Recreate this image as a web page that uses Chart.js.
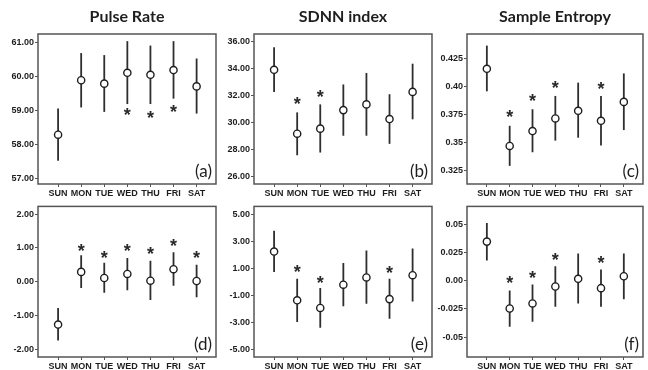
<!DOCTYPE html>
<html>
<head>
<meta charset="utf-8">
<script src="https://cdn.jsdelivr.net/npm/chart.js@4.4.1/dist/chart.umd.min.js"></script>
<style>
  body { margin: 0; background: #fff; width: 648px; height: 370px; position: relative; overflow: hidden; }
  canvas { position: absolute; }
</style>
</head>
<body>
<canvas id="chartA"></canvas>
<canvas id="chartB"></canvas>
<canvas id="chartC"></canvas>
<canvas id="chartD"></canvas>
<canvas id="chartE"></canvas>
<canvas id="chartF"></canvas>
<script>
// Days of the week (x categories)
const days = ['SUN', 'MON', 'TUE', 'WED', 'THU', 'FRI', 'SAT'];

// (a) Pulse Rate: mean, lower / upper whisker, asterisk position
const pulseMean = [58.30, 59.90, 59.80, 60.12, 60.06, 60.20, 59.72];
const pulseLow  = [57.53, 59.10, 58.97, 59.20, 59.20, 59.36, 58.92];
const pulseHigh = [59.07, 60.70, 60.64, 61.05, 60.92, 61.05, 60.54];
const pulseStar = [null, null, null, 58.97, 58.90, 59.06, null];
const pulseTicks = [57, 58, 59, 60, 61];
const pulseTickLabels = ['57.00', '58.00', '59.00', '60.00', '61.00'];

// (b) SDNN index
const sdnnMean = [33.90, 29.19, 29.56, 30.93, 31.35, 30.27, 32.27];
const sdnnLow  = [32.26, 27.60, 27.80, 29.04, 29.04, 28.44, 30.25];
const sdnnHigh = [35.57, 30.76, 31.35, 32.82, 33.67, 32.10, 34.35];
const sdnnStar = [null, 31.62, 32.13, null, null, null, null];
const sdnnTicks = [26, 28, 30, 32, 34, 36];
const sdnnTickLabels = ['26.00', '28.00', '30.00', '32.00', '34.00', '36.00'];

// (c) Sample Entropy
const entropyMean = [0.4156, 0.3471, 0.3603, 0.3715, 0.3783, 0.3694, 0.3862];
const entropyLow  = [0.3956, 0.3294, 0.3415, 0.3518, 0.3544, 0.3474, 0.3612];
const entropyHigh = [0.4362, 0.3650, 0.3797, 0.3915, 0.4033, 0.3915, 0.4115];
const entropyStar = [null, 0.3759, 0.3900, 0.4015, null, 0.4006, null];
const entropyTicks = [0.325, 0.35, 0.375, 0.40, 0.425];
const entropyTickLabels = ['0.325', '0.35', '0.375', '0.40', '0.425'];

// (d) Pulse Rate, deviation
const pulseDevMean = [-1.27, 0.29, 0.11, 0.23, 0.03, 0.37, 0.02];
const pulseDevLow  = [-1.74, -0.19, -0.33, -0.25, -0.54, -0.12, -0.46];
const pulseDevHigh = [-0.78, 0.78, 0.56, 0.70, 0.62, 0.87, 0.50];
const pulseDevStar = [null, 1.02, 0.81, 1.02, 0.93, 1.17, 0.80];
const pulseDevTicks = [-2, -1, 0, 1, 2];
const pulseDevTickLabels = ['-2.00', '-1.00', '0.00', '1.00', '2.00'];

// (e) SDNN index, deviation
const sdnnDevMean = [2.26, -1.37, -1.94, -0.21, 0.33, -1.28, 0.50];
const sdnnDevLow  = [0.73, -2.98, -3.41, -1.82, -1.62, -2.74, -1.45];
const sdnnDevHigh = [3.80, 0.23, -0.46, 1.40, 2.34, 0.23, 2.49];
const sdnnDevStar = [null, 1.00, 0.21, null, null, 0.93, null];
const sdnnDevTicks = [-5, -3, -1, 1, 3, 5];
const sdnnDevTickLabels = ['-5.00', '-3.00', '-1.00', '1.00', '3.00', '5.00'];

// (f) Sample Entropy, deviation
const entropyDevMean = [0.0349, -0.0246, -0.0201, -0.0050, 0.0018, -0.0065, 0.0041];
const entropyDevLow  = [0.0180, -0.0408, -0.0364, -0.0231, -0.0201, -0.0231, -0.0163];
const entropyDevHigh = [0.0515, -0.0086, -0.0033, 0.0130, 0.0243, 0.0101, 0.0243];
const entropyDevStar = [null, 0.0009, 0.0056, 0.0219, null, 0.0189, null];
const entropyDevTicks = [-0.05, -0.025, 0, 0.025, 0.05];
const entropyDevTickLabels = ['-0.05', '-0.025', '0.00', '0.025', '0.05'];

const INK = '#1e1e1e';
const tickFont = { family: '"Liberation Sans", Arial, sans-serif', weight: 'bold', size: 9 };

// draws frame, title, panel letter and the asterisks
const panelDecor = {
  id: 'panelDecor',
  afterDatasetsDraw(chart, args, opts) {
    const { ctx, chartArea: a } = chart;
    ctx.save();
    chart.data.datasets.forEach((ds, di) => {
      if (!ds.asterisk) return;
      ctx.font = 'bold 18px "Liberation Sans"';
      const m = ctx.measureText('*');
      const off = (m.actualBoundingBoxAscent - m.actualBoundingBoxDescent) / 2;
      ctx.fillStyle = '#2a2a2a';
      ctx.textAlign = 'center';
      ctx.textBaseline = 'alphabetic';
      chart.getDatasetMeta(di).data.forEach(p => {
        if (p.skip || isNaN(p.y)) return;
        ctx.fillText('*', p.x, p.y + off);
      });
    });
    ctx.strokeStyle = '#555';
    ctx.lineWidth = 1.5;
    ctx.strokeRect(a.left, a.top, a.right - a.left, a.bottom - a.top);
    ctx.fillStyle = INK;
    if (opts.title) {
      ctx.font = 'bold 16px Lato';
      ctx.textAlign = 'center';
      ctx.textBaseline = 'middle';
      ctx.fillText(opts.title, (a.left + a.right) / 2, a.top - 17);
    }
    if (opts.letter) {
      ctx.font = '17px Lato';
      ctx.textAlign = 'right';
      ctx.textBaseline = 'alphabetic';
      ctx.fillText(opts.letter, a.right - 4, a.bottom - 7);
    }
    ctx.restore();
  }
};

function makePanel(id, p) {
  const el = document.getElementById(id);
  el.width = p.w; el.height = p.h;
  el.style.left = p.left + 'px';
  el.style.top = p.top + 'px';
  const bars = days.map((d, i) => ({ x: i, y: [p.low[i], p.high[i]] }));
  const means = days.map((d, i) => ({ x: i, y: p.mean[i] }));
  const stars = days.map((d, i) => ({ x: i, y: p.star[i] })).filter(s => s.y !== null);

  return new Chart(el, {
    type: 'bar',
    data: {
      datasets: [
        {
          type: 'scatter', data: means, order: 0,
          pointRadius: 3.6, pointHoverRadius: 3.6,
          pointBackgroundColor: '#fff', pointBorderColor: INK, pointBorderWidth: 1.4
        },
        { type: 'scatter', data: stars, order: 1, pointRadius: 0, asterisk: true },
        {
          type: 'bar', data: bars, order: 2,
          backgroundColor: '#2e2e2e', borderWidth: 0, barThickness: 1.8, inflateAmount: 0
        }
      ]
    },
    options: {
      responsive: false,
      animation: false,
      events: [],
      layout: { padding: { top: p.padTop, right: p.padRight, bottom: 0, left: 0 } },
      plugins: {
        legend: { display: false },
        tooltip: { enabled: false },
        panelDecor: { title: p.title, letter: p.letter }
      },
      scales: {
        x: {
          type: 'linear', min: -0.87, max: 6.84, offset: false,
          grid: { drawOnChartArea: false, drawTicks: true, tickLength: 3, color: '#555', offset: false },
          border: { display: false },
          afterBuildTicks: s => { s.ticks = days.map((d, i) => ({ value: i })); },
          afterFit: s => { s.height = p.axisH; },
          ticks: {
            autoSkip: false, maxRotation: 0, padding: 1, color: INK, font: tickFont,
            callback: (v, i) => days[i]
          }
        },
        y: {
          type: 'linear', min: p.min, max: p.max, beginAtZero: false,
          grid: { drawOnChartArea: false, drawTicks: true, tickLength: 3, color: '#555' },
          border: { display: false },
          afterBuildTicks: s => { s.ticks = p.ticks.map(v => ({ value: v })); },
          afterFit: s => { s.width = p.axisW; },
          ticks: { padding: 1, color: INK, font: tickFont, callback: (v, i) => p.tickLabels[i] }
        }
      }
    },
    plugins: [panelDecor]
  });
}

// column / row geometry
const cols = [
  { left: 0, w: 222, axisW: 38, padRight: 6 },
  { left: 222, w: 215, axisW: 32, padRight: 5 },
  { left: 437, w: 211, axisW: 30, padRight: 4 }
];
const rows = [
  { top: 0, h: 200, padTop: 34, axisH: 16 },
  { top: 200, h: 170, padTop: 6, axisH: 13 }
];

const panels = [
  { id: 'chartA', c: 0, r: 0, title: 'Pulse Rate', letter: '(a)', min: 56.85, max: 61.26,
    mean: pulseMean, low: pulseLow, high: pulseHigh, star: pulseStar, ticks: pulseTicks, tickLabels: pulseTickLabels },
  { id: 'chartB', c: 1, r: 0, title: 'SDNN index', letter: '(b)', min: 25.48, max: 36.54,
    mean: sdnnMean, low: sdnnLow, high: sdnnHigh, star: sdnnStar, ticks: sdnnTicks, tickLabels: sdnnTickLabels },
  { id: 'chartC', c: 2, r: 0, title: 'Sample Entropy', letter: '(c)', min: 0.3133, max: 0.4465,
    mean: entropyMean, low: entropyLow, high: entropyHigh, star: entropyStar, ticks: entropyTicks, tickLabels: entropyTickLabels },
  { id: 'chartD', c: 0, r: 1, title: null, letter: '(d)', min: -2.23, max: 2.23,
    mean: pulseDevMean, low: pulseDevLow, high: pulseDevHigh, star: pulseDevStar, ticks: pulseDevTicks, tickLabels: pulseDevTickLabels },
  { id: 'chartE', c: 1, r: 1, title: null, letter: '(e)', min: -5.59, max: 5.62,
    mean: sdnnDevMean, low: sdnnDevLow, high: sdnnDevHigh, star: sdnnDevStar, ticks: sdnnDevTicks, tickLabels: sdnnDevTickLabels },
  { id: 'chartF', c: 2, r: 1, title: null, letter: '(f)', min: -0.0677, max: 0.0662,
    mean: entropyDevMean, low: entropyDevLow, high: entropyDevHigh, star: entropyDevStar, ticks: entropyDevTicks, tickLabels: entropyDevTickLabels }
];

Promise.all([
  document.fonts.load('bold 16px Lato'),
  document.fonts.load('17px Lato'),
  document.fonts.load('bold 9px "Liberation Sans"')
]).catch(() => {}).then(() => {
  panels.forEach(p => makePanel(p.id, Object.assign({}, cols[p.c], rows[p.r], p)));
});
</script>
</body>
</html>
